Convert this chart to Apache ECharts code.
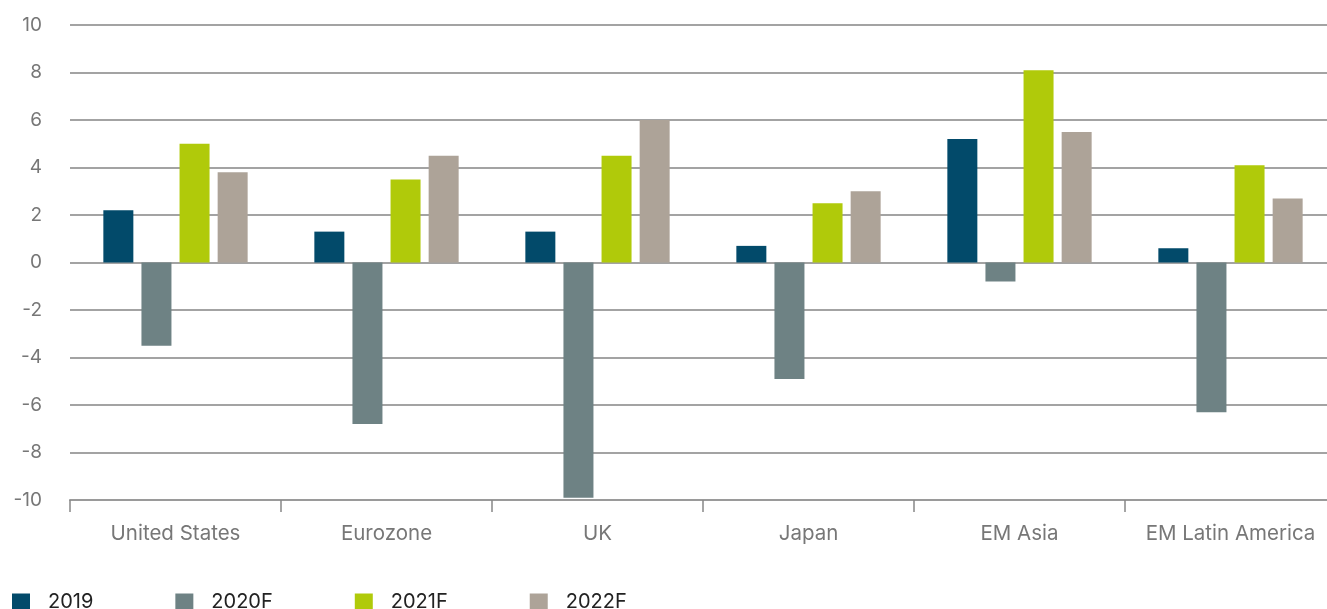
<!DOCTYPE html>
<html>
<head>
<meta charset="utf-8">
<script src="https://cdn.jsdelivr.net/npm/echarts@6/dist/echarts.min.js"></script>
<style>
  html, body { margin: 0; padding: 0; background: #fff; overflow: hidden; }
  #chart { width: 1340px; height: 609px; }
</style>
</head>
<body>
<div id="chart"></div>
<script>
// Regions on the x axis
const regions = ['United States', 'Eurozone', 'UK', 'Japan', 'EM Asia', 'EM Latin America'];

// GDP growth, %
const years = ['2019', '2020F', '2021F', '2022F'];
const gdp2019 = [2.2, 1.3, 1.3, 0.7, 5.2, 0.6];
const gdp2020F = [-3.5, -6.8, -9.9, -4.9, -0.8, -6.3];
const gdp2021F = [5.0, 3.5, 4.5, 2.5, 8.1, 4.1];
const gdp2022F = [3.8, 4.5, 6.0, 3.0, 5.5, 2.7];

const colors = ['#024a6a', '#6e8284', '#b0ca0a', '#ada398'];
const seriesValues = [gdp2019, gdp2020F, gdp2021F, gdp2022F];

const chart = echarts.init(document.getElementById('chart'));

// one bar series per year
const series = years.map((name, i) => ({
    name: name,
    type: 'bar',
    data: seriesValues[i],
    barWidth: 30,
    barGap: '27%',
    itemStyle: { color: colors[i] }
}));

chart.setOption({
    animation: false,
    color: colors,
    textStyle: { fontFamily: 'Inter, sans-serif' },
    grid: { left: 70, top: 25, width: 1266, height: 475 },
    legend: {
        left: 7,
        top: 587,
        itemWidth: 18,
        itemHeight: 17,
        itemGap: 82,
        icon: 'rect',
        textStyle: { fontSize: 20, color: '#222', padding: [0, 0, 0, 13] },
        data: years
    },
    xAxis: {
        type: 'category',
        data: regions,
        axisLine: { onZero: false, lineStyle: { color: '#9a9a9a', width: 2 } },
        axisTick: { show: true, interval: 0, length: 12, lineStyle: { color: '#888', width: 1.5 } },
        axisLabel: { interval: 0, color: '#777', fontSize: 20.5, margin: 23 }
    },
    yAxis: {
        type: 'value',
        min: -10,
        max: 10,
        interval: 2,
        axisLine: { show: false },
        axisTick: { show: false },
        axisLabel: { color: '#777', fontSize: 19, margin: 28 },
        splitLine: { lineStyle: { color: '#858585', width: 1.5 } }
    },
    series: series
});
</script>
</body>
</html>
